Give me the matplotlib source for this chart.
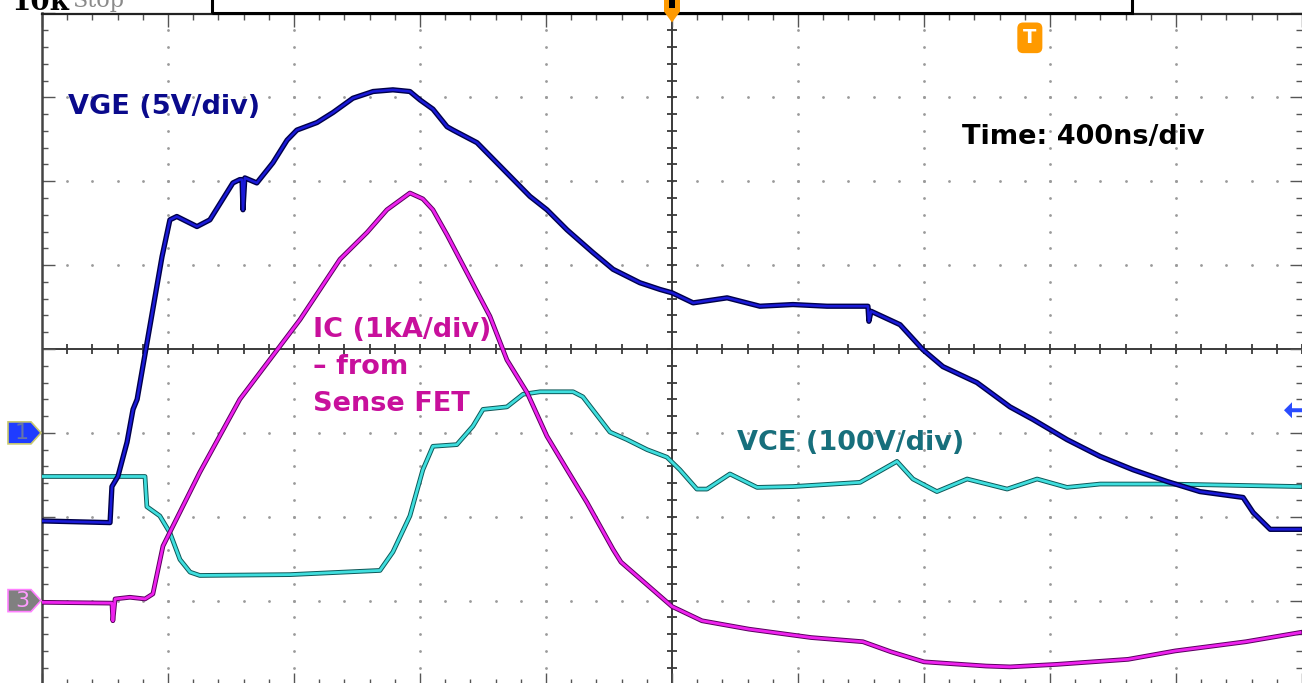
"""Oscilloscope capture: IGBT turn-on with VGE, IC (sense FET) and VCE"""
import matplotlib.pyplot as plt
import numpy as np
from matplotlib.patches import Polygon, Rectangle
from matplotlib.ticker import MultipleLocator
from matplotlib.transforms import IdentityTransform

# ===== waveform data (time in ns, level in screen divisions)
vge_t = [-2000, -1784, -1778, -1759, -1730, -1711, -1698, -1619, -1594, -1572,
         -1508, -1467, -1394, -1372, -1365, -1362, -1356, -1318, -1267, -1222,
         -1191, -1127, -1076, -1013, -949, -886, -832, -800, -759, -714,
         -695, -619, -556, -451, -397, -333, -251, -187, -102, -38,
         0, 67, 175, 279, 384, 492, 597, 622, 625, 632,
         724, 797, 860, 968, 1073, 1146, 1254, 1359, 1464, 1572,
         1676, 1813, 1845, 1899, 1994]
vge_div = [-2.05, -2.07, -1.64, -1.52, -1.11, -0.72, -0.60, 1.10, 1.54, 1.58,
           1.46, 1.54, 1.98, 2.02, 2.02, 1.66, 2.04, 1.98, 2.22, 2.49,
           2.61, 2.70, 2.82, 2.99, 3.07, 3.09, 3.07, 2.97, 2.86, 2.65,
           2.61, 2.46, 2.22, 1.82, 1.66, 1.42, 1.15, 0.95, 0.79, 0.71,
           0.67, 0.55, 0.61, 0.51, 0.53, 0.51, 0.51, 0.51, 0.33, 0.45,
           0.29, -0.01, -0.21, -0.40, -0.69, -0.84, -1.08, -1.28, -1.44, -1.58,
           -1.70, -1.77, -1.95, -2.15, -2.15]

ic_t = [-2000, -1778, -1775, -1768, -1721, -1673, -1648, -1616, -1499, -1372,
        -1181, -1054, -968, -905, -832, -791, -759, -714, -651, -578,
        -524, -460, -397, -333, -270, -187, -162, 0, 95, 244,
        441, 606, 695, 800, 997, 1073, 1222, 1448, 1597, 1822, 1994]
ic_div = [-3.02, -3.03, -3.24, -2.98, -2.96, -2.98, -2.92, -2.35, -1.47, -0.60,
          0.35, 1.07, 1.39, 1.66, 1.86, 1.79, 1.66, 1.36, 0.91, 0.39,
          -0.13, -0.52, -1.04, -1.44, -1.83, -2.39, -2.54, -3.07, -3.24, -3.34,
          -3.44, -3.49, -3.61, -3.73, -3.78, -3.79, -3.76, -3.70, -3.60, -3.49, -3.38]

vce_t = [-2000, -1673, -1667, -1626, -1594, -1562, -1530, -1499, -1213, -927,
         -886, -832, -791, -759, -683, -632, -600, -524, -473, -419,
         -314, -283, -197, -143, -79, -16, 25, 79, 111, 184,
         270, 384, 597, 714, 765, 841, 937, 1064, 1159, 1254,
         1359, 1572, 1994]
vce_div = [-1.52, -1.52, -1.88, -1.99, -2.19, -2.51, -2.66, -2.70, -2.69, -2.64,
           -2.42, -1.99, -1.44, -1.16, -1.14, -0.92, -0.72, -0.69, -0.54, -0.51,
           -0.51, -0.57, -0.99, -1.08, -1.20, -1.29, -1.44, -1.67, -1.67, -1.49,
           -1.65, -1.64, -1.59, -1.34, -1.55, -1.70, -1.55, -1.67, -1.55, -1.65,
           -1.61, -1.61, -1.64]

# ===== screen settings
t_per_div = 400
ch1_level = -1.0
ch3_level = -3.0
trig_level = -0.73
trig_delay = 1136


def px(x, y):
    """image pixel (top-left origin) -> figure fraction"""
    return x / 1302, 1 - y / 683


def main():
    fig = plt.figure(figsize=(13.02, 6.83), dpi=100)
    l, t = px(42, 13.5)
    r, b = px(1302, 684.5)
    ax = fig.add_axes([l, b, r - l, t - b])
    ax.set_xlim(-5 * t_per_div, 5 * t_per_div)
    ax.set_ylim(-4, 4)

    # ===== graticule
    x_minor = np.arange(-5 * t_per_div, 5 * t_per_div + 1, t_per_div / 5)
    y_minor = np.arange(-4, 4.01, 0.2)
    dot = dict(ls="none", marker="o", ms=2.0, color="#9a9a9a", mec="none", zorder=1)
    for xm in range(-4, 5):
        if xm != 0:
            ax.plot(np.full(len(y_minor), xm * t_per_div), y_minor, **dot)
    for ym in range(-3, 4):
        if ym != 0:
            ax.plot(x_minor, np.full(len(x_minor), ym), **dot)
    ax.axhline(0, color="#3a3a3a", lw=1.4, zorder=1)
    ax.axvline(0, color="#3a3a3a", lw=1.4, zorder=1)
    ax.plot(x_minor, np.zeros(len(x_minor)), ls="none", marker="|", ms=7,
            mew=1.3, color="#3a3a3a", zorder=1)
    ax.plot(np.zeros(len(y_minor)), y_minor, ls="none", marker="_", ms=7,
            mew=1.3, color="#3a3a3a", zorder=1)

    ax.xaxis.set_major_locator(MultipleLocator(t_per_div))
    ax.xaxis.set_minor_locator(MultipleLocator(t_per_div / 5))
    ax.yaxis.set_major_locator(MultipleLocator(1))
    ax.yaxis.set_minor_locator(MultipleLocator(0.2))
    ax.tick_params(which="both", direction="in", top=True, right=True,
                   labelbottom=False, labelleft=False, color="#555555", width=1)
    ax.tick_params(which="major", length=9)
    ax.tick_params(which="minor", length=4)
    ax.spines["right"].set_visible(False)
    ax.spines["left"].set_color("#444444")
    ax.spines["left"].set_linewidth(1.8)
    ax.spines["bottom"].set_color("#444444")
    ax.spines["bottom"].set_linewidth(1.8)
    ax.spines["top"].set_color("#222222")
    ax.spines["top"].set_linewidth(1.6)

    # ===== traces
    ax.plot(vce_t, vce_div, color="#0d5858", lw=3.4, zorder=3)
    ax.plot(vce_t, vce_div, color="#3fdede", lw=2.0, zorder=3)
    ax.plot(ic_t, ic_div, color="#5a005e", lw=3.4, zorder=4)
    ax.plot(ic_t, ic_div, color="#ee22ee", lw=2.0, zorder=4)
    ax.plot(vge_t, vge_div, color="#00004a", lw=3.8, zorder=5)
    ax.plot(vge_t, vge_div, color="#1a1ad8", lw=1.8, zorder=5)

    # ===== labels
    font = dict(family="DejaVu Sans", weight="bold", size=19.5)
    fig.text(*px(68, 107), "VGE (5V/div)", color="#0a0a8c", va="center", **font)
    fig.text(*px(962, 137), "Time: 400ns/div", color="black", va="center", **font)
    fig.text(*px(737, 443), "VCE (100V/div)", color="#176f7c", va="center", **font)
    fig.text(*px(313, 317), "IC (1kA/div)\n– from\nSense FET", color="#c8109c",
             va="top", linespacing=1.55, **font)

    # ===== scope decorations
    fig.text(*px(12, 10), "10k", family="DejaVu Serif", weight="bold",
             size=20, color="black", va="baseline")
    fig.text(*px(72, 7), "Stop", family="DejaVu Serif", size=16,
             color="#8a8a8a", va="baseline")
    x0, y0 = px(212, 13)
    x1, _ = px(1132, 13)
    fig.add_artist(Rectangle((x0, y0), x1 - x0, 0.05, fill=False, ec="black",
                             lw=2.2, transform=fig.transFigure))

    # channel ground markers on the left edge
    lx, c1 = ax.transData.transform((-5 * t_per_div, ch1_level))
    _, c3 = ax.transData.transform((-5 * t_per_div, ch3_level))
    for cy, fc, ec, tc, lab in [(c1, "#1f3cff", "#c8c86e", "#6676a8", "1"),
                                (c3, "#808080", "#ff80ff", "#ff9cff", "3")]:
        verts = [(lx - 34, cy - 11), (lx - 11, cy - 11), (lx - 1, cy),
                 (lx - 11, cy + 11), (lx - 34, cy + 11)]
        fig.add_artist(Polygon(verts, closed=True, fc=fc, ec=ec, lw=1.2,
                               transform=IdentityTransform()))
        fig.text(lx - 20, cy, lab, color=tc, size=16, ha="center", va="center",
                 transform=IdentityTransform())

    # trigger level arrow on the right edge
    rx, ty = ax.transData.transform((5 * t_per_div, trig_level))
    arrow = [(rx - 18, ty), (rx - 10, ty + 8), (rx - 10, ty + 2), (rx, ty + 2),
             (rx, ty - 2), (rx - 10, ty - 2), (rx - 10, ty - 8)]
    fig.add_artist(Polygon(arrow, closed=True, fc="#2a4cff", ec="none",
                           transform=IdentityTransform()))

    # trigger position marker at the top
    cx, top = ax.transData.transform((0, 4))
    tri = [(cx - 8, top + 14), (cx + 8, top + 14), (cx + 8, top + 2),
           (cx, top - 9), (cx - 8, top + 2)]
    fig.add_artist(Polygon(tri, closed=True, fc="#ff9a00", ec="none",
                           transform=IdentityTransform()))
    fig.add_artist(Rectangle((cx - 3, top + 6), 6, 8, fc="black", ec="none",
                             transform=IdentityTransform()))

    # trigger delay marker
    ax.text(trig_delay, 3.71, "T", color="white", weight="bold", size=14,
            ha="center", va="center", zorder=6,
            bbox=dict(boxstyle="round,pad=0.3", fc="#ff9a00", ec="none"))

    fig.savefig("out.png", dpi=100)


if __name__ == "__main__":
    main()
